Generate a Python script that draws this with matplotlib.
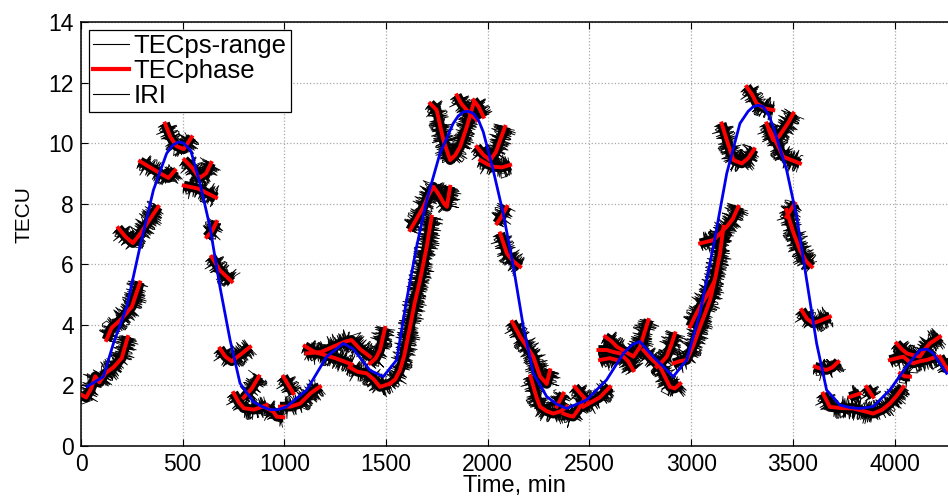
import matplotlib
matplotlib.use("Agg")
import matplotlib.pyplot as plt
from matplotlib.lines import Line2D

plt.rcParams['font.family'] = ['Liberation Sans', 'DejaVu Sans']

# IRI model curve (min, TECU)
iri_t = [30, 110, 160, 225, 290, 356, 421, 450, 479, 505, 540, 585, 634, 683,
         733, 782, 847, 890, 929, 970, 1011, 1110, 1208, 1290, 1339, 1421, 1486,
         1552, 1601, 1650, 1700, 1765, 1830, 1855, 1880, 1905, 1929, 1955, 1978,
         2027, 2076, 2126, 2175, 2224, 2290, 2340, 2388, 2486, 2584, 2667, 2710,
         2748, 2814, 2912, 2978, 3043, 3109, 3175, 3240, 3280, 3305, 3330, 3354,
         3380, 3404, 3470, 3519, 3568, 3617, 3666, 3732, 3780, 3830, 3895, 3977,
         4059, 4125, 4160, 4190, 4256]
iri_v = [1.96, 2.29, 3.4, 4.6, 6.58, 8.45, 9.66, 9.93, 10.04, 10.0, 9.75, 8.67,
         7.24, 5.26, 3.5, 2.07, 1.46, 1.3, 1.2, 1.2, 1.3, 1.85, 2.95, 3.39, 3.2,
         2.5, 2.29, 2.84, 4.82, 6.58, 8.12, 9.66, 10.65, 10.9, 11.03, 11.05,
         10.98, 10.75, 10.37, 9.1, 7.68, 5.92, 3.94, 2.4, 1.63, 1.38, 1.24, 1.52,
         2.18, 3.06, 3.35, 3.45, 2.95, 2.29, 2.84, 4.38, 6.58, 9.0, 10.65, 11.05,
         11.2, 11.25, 11.2, 10.95, 10.54, 9.1, 7.57, 5.48, 3.39, 1.85, 1.35, 1.27,
         1.24, 1.3, 1.85, 2.62, 3.17, 3.2, 3.06, 2.4]

# satellite arcs (min, TECU), TECphase and TECps-range follow the same arcs
arcs = [
    [(0, 1.7), (25, 1.6), (50, 1.9), (70, 2.3), (90, 2.1), (120, 2.4), (160, 2.6), (200, 2.9), (230, 3.6)],
    [(125, 3.5), (150, 3.9), (200, 4.2), (250, 4.6), (290, 5.4)],
    [(183, 7.2), (220, 6.9), (255, 6.7), (290, 7.0), (330, 7.4), (380, 7.9)],
    [(290, 9.4), (340, 9.2), (390, 9.0), (430, 8.85), (462, 9.1)],
    [(413, 10.65), (440, 10.2), (470, 9.9), (505, 9.8), (544, 10.2)],
    [(508, 9.45), (545, 9.2), (582, 8.85), (615, 9.0), (640, 9.35)],
    [(505, 8.6), (540, 8.55), (575, 8.5), (620, 8.35), (664, 8.2)],
    [(618, 6.9), (645, 7.1), (667, 7.4)],
    [(642, 6.25), (683, 5.8), (741, 5.43)],
    [(683, 3.22), (710, 2.95), (741, 2.8), (790, 3.05), (831, 3.27)],
    [(750, 1.75), (775, 1.45), (800, 1.25), (850, 1.2), (913, 1.35)],
    [(800, 1.6), (840, 1.9), (875, 2.3)],
    [(900, 1.3), (946, 1.13), (962, 0.97), (995, 0.95)],
    [(995, 2.29), (1044, 1.74)],
    [(978, 1.3), (1030, 1.3), (1077, 1.4), (1130, 1.75), (1175, 1.96)],
    [(1100, 3.3), (1150, 3.1), (1250, 2.9), (1330, 2.7)],
    [(1110, 3.06), (1180, 3.1), (1240, 3.28), (1300, 3.45), (1330, 3.5), (1372, 3.2), (1421, 2.95)],
    [(1320, 2.6), (1360, 2.45), (1404, 2.4), (1440, 2.2), (1470, 1.95), (1519, 2.06)],
    [(1421, 2.73), (1450, 2.9), (1470, 3.17), (1495, 3.9)],
    [(1519, 2.06), (1545, 2.2), (1568, 2.5), (1590, 3.0), (1618, 3.94), (1640, 4.7), (1667, 5.48), (1700, 6.58), (1724, 7.57)],
    [(1618, 7.13), (1650, 7.5), (1684, 7.9), (1710, 8.3), (1733, 8.56), (1750, 8.4), (1766, 8.23), (1785, 8.0), (1799, 7.9), (1815, 8.56)],
    [(1717, 11.31), (1749, 11.09), (1765, 10.6), (1782, 10.1), (1815, 9.44), (1840, 9.6), (1864, 9.88), (1897, 10.54), (1930, 11.31)],
    [(1848, 11.58), (1870, 11.3), (1897, 11.09), (1946, 10.76)],
    [(1930, 11.42), (1955, 11.2), (1979, 10.87)],
    [(1946, 9.88), (1980, 9.6), (2012, 9.44), (2040, 9.7), (2061, 10.1), (2085, 10.54)],
    [(1963, 9.44), (2000, 9.3), (2028, 9.22), (2070, 9.2), (2110, 9.28)],
    [(2045, 7.35), (2070, 7.6), (2094, 7.9)],
    [(2061, 7.02), (2094, 6.36), (2125, 6.1), (2159, 5.92)],
    [(2120, 4.1), (2160, 3.6), (2190, 3.3), (2224, 2.95), (2257, 2.3), (2290, 2.05), (2306, 2.5)],
    [(2210, 2.3), (2240, 1.6), (2257, 1.3), (2290, 1.15), (2322, 1.07), (2360, 1.15), (2388, 1.3)],
    [(2339, 1.3), (2372, 1.73)],
    [(2372, 1.07), (2400, 1.0), (2420, 0.97), (2445, 1.2), (2470, 1.5)],
    [(2428, 1.95), (2460, 1.7), (2486, 1.51)],
    [(2470, 1.3), (2510, 1.45), (2550, 1.6), (2601, 1.95)],
    [(2544, 3.17), (2585, 3.17), (2620, 3.1), (2650, 3.06), (2690, 2.8), (2716, 2.5)],
    [(2552, 2.84), (2600, 2.9), (2634, 2.84)],
    [(2577, 3.61), (2610, 3.45), (2634, 3.28), (2680, 3.1), (2716, 2.95), (2749, 3.28), (2790, 4.16)],
    [(2765, 3.17), (2800, 2.9), (2847, 2.62), (2870, 2.3), (2896, 1.95), (2920, 1.9), (2946, 2.06)],
    [(2831, 2.62), (2860, 2.8), (2880, 2.95), (2900, 3.3), (2921, 3.72)],
    [(2913, 2.73), (2945, 2.8), (2978, 2.84), (3010, 3.3), (3044, 3.94), (3070, 4.4), (3093, 4.82), (3120, 5.6), (3142, 6.36), (3159, 7.24)],
    [(2995, 3.94), (3020, 4.3), (3044, 4.6), (3080, 5.0), (3109, 5.37)],
    [(3044, 6.69), (3080, 6.75), (3109, 6.8), (3140, 7.0), (3175, 7.24), (3205, 7.5), (3232, 7.9)],
    [(3150, 10.65), (3180, 10.0), (3208, 9.44), (3249, 9.33), (3280, 9.5), (3310, 9.8)],
    [(3273, 11.86), (3300, 11.6), (3322, 11.31), (3360, 11.15), (3404, 11.09)],
    [(3371, 10.65), (3390, 10.3), (3404, 10.1), (3430, 10.2), (3453, 10.43), (3480, 10.7), (3502, 10.98)],
    [(3387, 10.43), (3420, 10.0), (3453, 9.55), (3490, 9.45), (3535, 9.33)],
    [(3469, 7.57), (3490, 7.8), (3510, 8.01)],
    [(3469, 7.79), (3500, 7.1), (3535, 6.47), (3565, 6.1), (3593, 5.92)],
    [(3543, 4.49), (3570, 4.2), (3600, 4.05), (3640, 4.15), (3682, 4.27)],
    [(3608, 2.62), (3640, 2.55), (3666, 2.51), (3695, 2.6), (3723, 2.78)],
    [(3649, 1.73), (3682, 1.29), (3740, 1.25), (3797, 1.24), (3850, 1.15), (3895, 1.07), (3940, 1.2), (3977, 1.4), (4010, 1.65), (4043, 1.95)],
    [(3780, 1.62), (3829, 1.73)],
    [(3862, 1.95), (3895, 1.62)],
    [(3977, 2.84), (4010, 2.9), (4043, 2.95), (4070, 2.8), (4092, 2.73), (4125, 2.8), (4158, 2.84), (4207, 2.95)],
    [(4010, 3.39), (4035, 3.2), (4060, 3.06), (4090, 3.0), (4125, 2.95), (4150, 3.2), (4174, 3.39), (4200, 3.5), (4223, 3.61)],
    [(4027, 2.4), (4050, 2.3), (4076, 2.29)],
    [(4223, 2.95), (4262, 2.5)],
]

y_ticks = [0, 2, 4, 6, 8, 10, 12, 14]
x_ticks = [0, 500, 1000, 1500, 2000, 2500, 3000, 3500, 4000]

fig = plt.figure(figsize=(9.48, 4.96), dpi=100)
ax = fig.add_axes([81 / 948, 50 / 496, 1 - 81 / 948, 424 / 496])

for arc in arcs:
    xs = [p[0] for p in arc]
    ys = [p[1] for p in arc]
    # noisy pseudo-range: dense core plus sketchy spikes
    ax.plot(xs, ys, color='black', lw=7, zorder=2, solid_capstyle='butt')
    for sc, ln, rnd in [(12, 0.6, 4), (9, 0.45, 6), (6, 0.8, 3), (10, 0.35, 8)]:
        l, = ax.plot(xs, ys, color='black', lw=0.6, zorder=2)
        l.set_sketch_params(scale=sc, length=ln, randomness=rnd)
    ax.plot(xs, ys, color='red', lw=2.8, zorder=3)

ax.plot(iri_t, iri_v, color='#0000ee', lw=2.0, zorder=4)

ax.set_xlim(0, 4263)
ax.set_ylim(0, 14)
ax.set_xticks(x_ticks)
ax.set_yticks(y_ticks)
ax.tick_params(direction='in', length=5, top=True, right=False, labelsize=16.5, pad=5)
ax.spines['right'].set_visible(False)
for s in ['left', 'top', 'bottom']:
    ax.spines[s].set_linewidth(1.1)
ax.grid(True, linestyle=':', color='#a8a8a8', lw=0.9)
ax.set_axisbelow(True)

ax.set_xlabel("Time, min", fontsize=17, labelpad=-1)
ax.set_ylabel("TECU", fontsize=15)
ax.yaxis.set_label_coords(-0.055, 0.545)

handles = [Line2D([], [], color='black', lw=0.8),
           Line2D([], [], color='red', lw=3),
           Line2D([], [], color='black', lw=0.8)]
leg = ax.legend(handles, ["TECps-range", "TECphase", "IRI"], loc='upper left',
                fontsize=18.5, fancybox=False, framealpha=1, edgecolor='black',
                handlelength=1.4, handletextpad=0.2, borderpad=0.15,
                labelspacing=0.05, borderaxespad=0.3)
leg.get_frame().set_linewidth(0.9)

fig.savefig("out.png", dpi=100)
